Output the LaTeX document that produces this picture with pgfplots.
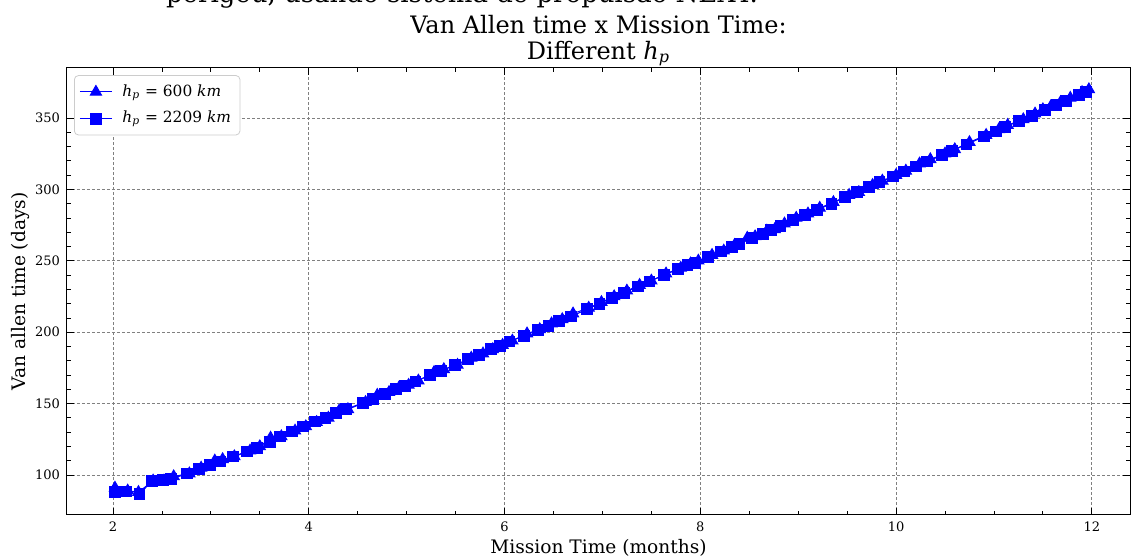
\documentclass[border=0pt]{standalone}
\usepackage{pgfplots}
\pgfplotsset{compat=1.18}
\usepackage{fontspec}
\setmainfont{DejaVu Serif}
\definecolor{mblue}{RGB}{0,0,255}
\newcommand{\hp}{\textit{h}\textsubscript{\textit{p}}}
\begin{document}
\begin{tikzpicture}
\begin{axis}[
  scale only axis, width=531.5pt, height=223.5pt,
  xmin=1.53, xmax=12.39, ymin=72, ymax=385,
  xtick={2,4,6,8,10,12}, ytick={100,150,200,250,300,350},
  minor x tick num=3, minor y tick num=4,
  tick align=inside, xtick pos=both, ytick pos=both,
  xticklabel pos=lower, yticklabel pos=left,
  major tick length=3.5pt, minor tick length=2pt,
  tick style={black, line width=0.4pt},
  axis line style={line width=0.5pt},
  grid=major, major grid style={gray, dash pattern=on 1.5pt off 1pt, line width=0.4pt},
  /pgf/number format/assume math mode=true,
  ticklabel style={font=\fontsize{6.5}{8}\selectfont},
  label style={font=\fontsize{9.3}{11}\selectfont},
  xlabel={Mission Time (months)}, ylabel={Van allen time (days)},
  xlabel style={yshift=3pt}, ylabel style={yshift=-4pt},
  title={Van Allen time x Mission Time:\\Different \hp},
  title style={align=center, font=\fontsize{12}{13}\selectfont, yshift=-8.5pt},
  legend style={at={(0.0066,0.984)}, anchor=north west, draw=gray!40, rounded corners=2pt,
    font=\fontsize{7.7}{9}\selectfont, cells={anchor=west}, inner sep=2.5pt, row sep=2pt},
  legend image code/.code={\draw[mark repeat=2,mark phase=2,#1] plot coordinates {(0pt,0pt) (8pt,0pt) (16pt,0pt)}; \path (19pt,0pt);},
]
\addplot[mblue, line width=0.5pt, mark=triangle*, mark size=3.2pt, mark options={solid}] coordinates {
(2.02,91) (2.15,89) (2.26,88) (2.41,96) (2.52,96) (2.62,99) (2.78,101) (2.90,105) (3.04,110) (3.12,111)
(3.24,113) (3.40,117) (3.50,120) (3.61,126) (3.72,127) (3.86,131) (3.97,134) (4.08,137) (4.20,140) (4.31,145)
(4.40,146) (4.58,151) (4.70,156) (4.82,158) (4.92,161) (5.02,163) (5.12,166) (5.28,172) (5.38,174) (5.52,177)
(5.66,182) (5.78,185) (5.88,188) (5.98,191) (6.08,194) (6.23,199) (6.36,202) (6.48,206) (6.59,209) (6.70,213)
(6.86,217) (6.99,221) (7.12,225) (7.25,229) (7.38,233) (7.50,236) (7.65,241) (7.80,245) (7.90,248) (7.98,250)
(8.12,254) (8.24,257) (8.35,261) (8.48,266) (8.56,267) (8.68,271) (8.76,272) (8.86,276) (8.98,280) (9.10,283)
(9.22,287) (9.36,291) (9.52,296) (9.62,298) (9.76,303) (9.86,306) (10.00,310) (10.10,313) (10.24,318) (10.35,321)
(10.50,325) (10.60,328) (10.75,333) (10.92,338) (11.05,342) (11.14,345) (11.30,349) (11.42,353) (11.50,356) (11.58,358)
(11.68,361) (11.78,364) (11.90,368) (11.97,370)
};
\addlegendentry{\hp{} = 600 \textit{km}}
\addplot[mblue, line width=0.5pt, mark=square*, mark size=2.7pt, mark options={solid}] coordinates {
(2.02,88) (2.13,88.5) (2.27,86.5) (2.40,96) (2.51,96.5) (2.59,97) (2.76,101) (2.88,104) (2.99,107) (3.09,109.5)
(3.23,113) (3.37,116.5) (3.47,119) (3.60,123) (3.71,127) (3.83,130.5) (3.94,134) (4.06,137.5) (4.17,140) (4.28,143.5)
(4.38,146) (4.55,150.5) (4.66,153.5) (4.78,157) (4.89,160) (4.98,162.5) (5.09,165.5) (5.24,170) (5.35,173) (5.49,177)
(5.63,181) (5.74,184) (5.86,188) (5.95,190.5) (6.05,193.5) (6.20,197.5) (6.34,201.5) (6.45,204.5) (6.56,208) (6.68,211)
(6.84,216) (6.97,220) (7.10,224) (7.22,227.5) (7.36,232) (7.48,235.5) (7.63,240) (7.77,244) (7.87,247) (7.95,248.5)
(8.08,252.5) (8.21,256.5) (8.32,259.5) (8.40,262) (8.53,266) (8.64,269) (8.72,271.5) (8.82,274.5) (8.95,278.5) (9.07,282)
(9.19,285.5) (9.34,290) (9.48,294.5) (9.60,298) (9.72,301.5) (9.83,305) (9.97,309) (10.08,312.5) (10.20,316) (10.32,319.5)
(10.47,324) (10.57,327) (10.72,331.5) (10.90,337) (11.02,340.5) (11.11,343.5) (11.26,348) (11.39,351.5) (11.52,355.5) (11.64,359)
(11.74,362) (11.87,366) (11.94,368)
};
\addlegendentry{\hp{} = 2209 \textit{km}}
\end{axis}
\node[anchor=base west, xshift=46pt, yshift=32.5pt, font=\fontsize{13}{15}\selectfont] at (current axis.north west) {perigeu, usando sistema de propulsão NEXT.};
\pgfresetboundingbox
\path[use as bounding box] (current axis.south west) ++(-33.5pt,-20.5pt) rectangle ++(565.5pt,278pt);
\end{tikzpicture}
\end{document}
